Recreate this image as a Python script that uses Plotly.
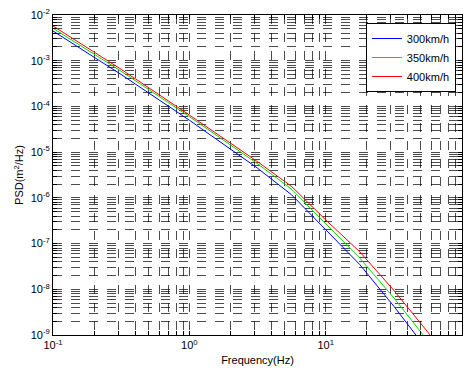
import plotly.graph_objects as go

freq = [0.1, 0.316, 1.0, 3.16, 5.62, 10.0, 17.8, 31.6, 56.2, 63.1]
psd_300 = [4.47e-3, 5.0e-4, 5.0e-5, 4.47e-6, 1.17e-6, 2.0e-7, 3.47e-8, 4.27e-9, 4.5e-10, 2.9e-10]
psd_350 = [5.13e-3, 5.9e-4, 6.0e-5, 5.6e-6, 1.55e-6, 2.7e-7, 4.8e-8, 6.5e-9, 7.4e-10, 4.8e-10]
psd_400 = [5.75e-3, 6.5e-4, 6.5e-5, 6.2e-6, 1.78e-6, 3.3e-7, 6.6e-8, 9.5e-9, 1.15e-9, 7.4e-10]
names = ["300km/h", "350km/h", "400km/h"]
colors = ["#0000ff", "#00dd00", "#ff0000"]

x_decades = [-1, 0, 1]
y_decades = list(range(-9, -2))


def log_ticks(decades, last):
    vals, text = [], []
    for d in decades:
        for m in range(1, 10):
            vals.append(m * 10.0 ** d)
            text.append("10<sup>%d</sup>" % d if m == 1 else "")
    vals.append(10.0 ** last)
    text.append("10<sup>%d</sup>" % last)
    return vals, text


xtickvals, xticktext = log_ticks(x_decades, 2)
ytickvals, yticktext = log_ticks(y_decades, -2)

fig = go.Figure()
for n, c, ys in zip(names, colors, [psd_300, psd_350, psd_400]):
    fig.add_trace(go.Scatter(x=freq, y=ys, mode="lines", name=n,
                             line=dict(color=c, width=1)))

font = dict(family="Liberation Sans, Arial, sans-serif", size=11, color="black")
axis_common = dict(
    type="log", showline=True, linecolor="black", linewidth=1, mirror="ticks",
    ticks="inside", ticklen=4, tickcolor="black", automargin=False,
    showgrid=True, gridcolor="rgba(0,0,0,0.7)", griddash="dash", gridwidth=1,
    zeroline=False, tickfont=font, layer="above traces",
)
fig.update_xaxes(**axis_common, range=[-1, 2], tickvals=xtickvals, ticktext=xticktext,
                 title=dict(text="Frequency(Hz)", font=font, standoff=6))
fig.update_yaxes(**axis_common, range=[-9, -2], tickvals=ytickvals, ticktext=yticktext,
                 title=dict(text="PSD(m<sup>2</sup>/Hz)", font=font, standoff=4))

fig.update_layout(
    width=470, height=376,
    margin=dict(l=53, r=8, t=15, b=41),
    paper_bgcolor="white", plot_bgcolor="white",
    font=font,
    showlegend=True,
    legend=dict(x=0.985, xanchor="right", y=0.975, yanchor="top",
                bordercolor="black", borderwidth=1, bgcolor="white",
                font=dict(family="Liberation Sans, Arial, sans-serif", size=11),
                tracegroupgap=0, itemwidth=30),
)
fig.write_html("out.html")
